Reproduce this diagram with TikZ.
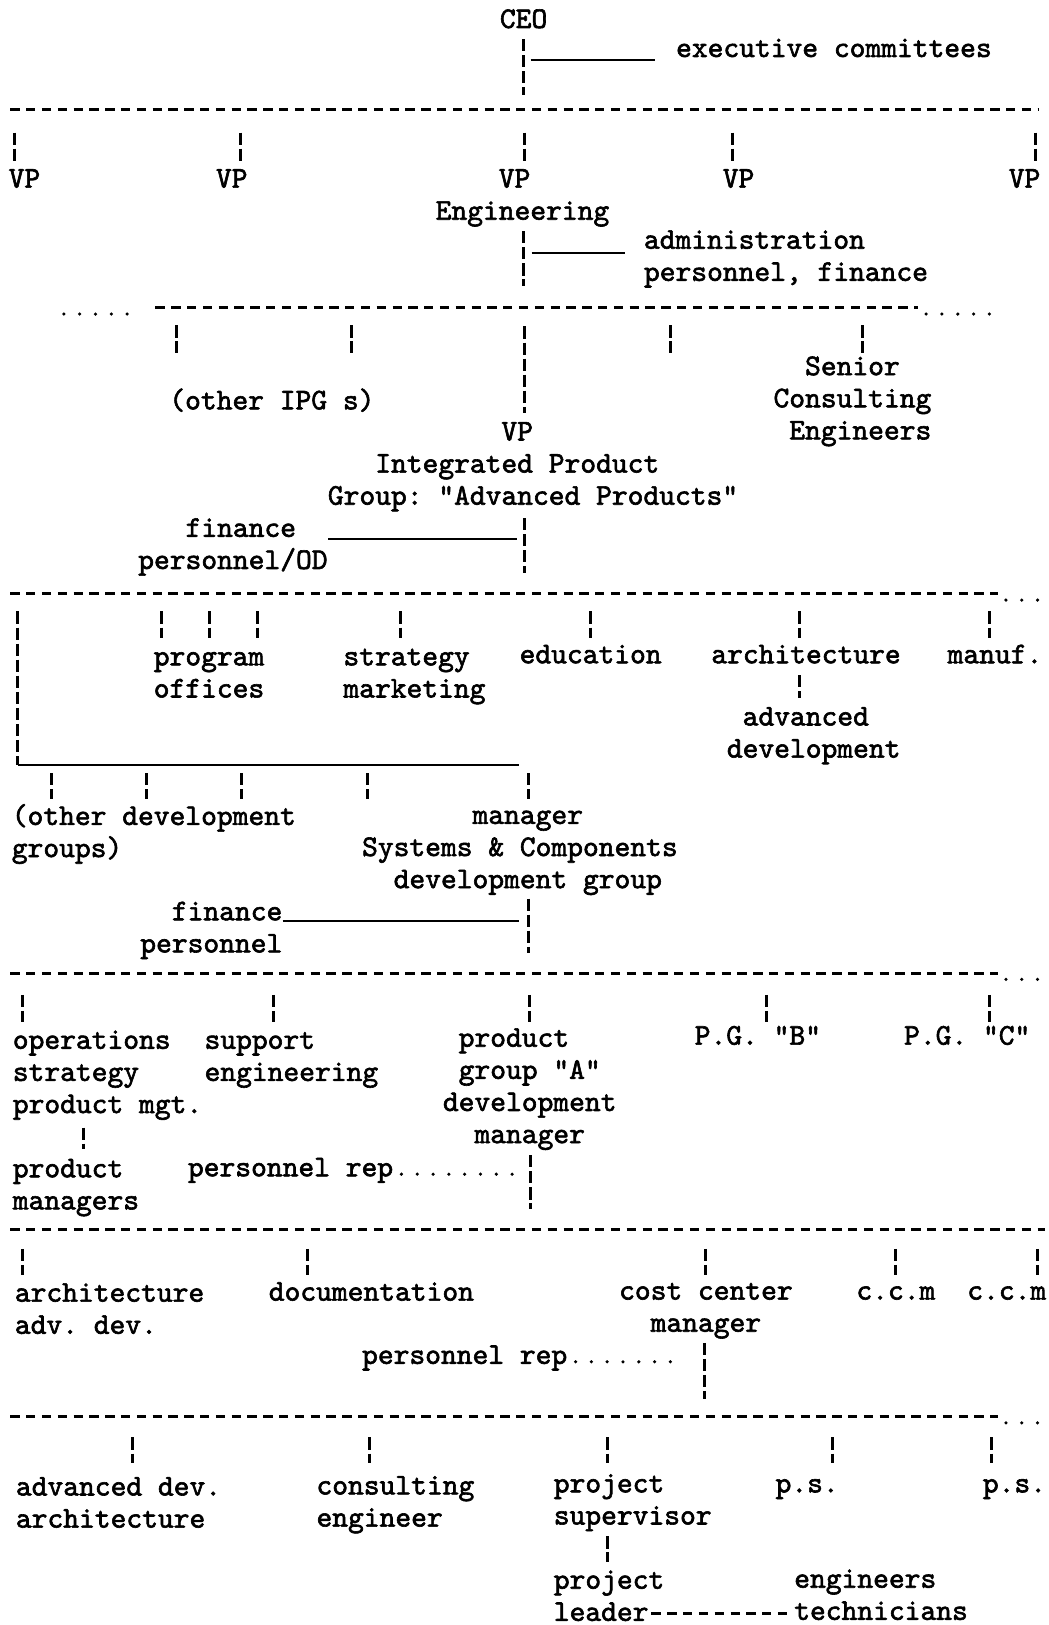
\documentclass[tikz,border=0pt]{standalone}
\usepackage{tikz}
\usepackage{fontspec}
\setmonofont{lmmono10-regular.otf}[FakeBold=2]
\newcommand{\tpad}[1]{\hspace*{#1\fontcharwd\font`x}}

\begin{document}
\begin{tikzpicture}[x=0.5pt, y=-0.5pt,
  lbl/.style={font=\ttfamily\fontsize{14.5}{15.5}\selectfont, inner sep=0pt, align=left, anchor=base west},
  hbus/.style={line width=1.5pt, dash pattern=on 4.5pt off 3.125pt},
  vline/.style={line width=1.45pt, dash pattern=on 5.9pt off 1.85pt},
  uline/.style={line width=1pt},
  dotrow/.style={line width=1.7pt, line cap=round, dash pattern=on 0pt off 7.625pt, dash phase=3.8pt}]
\useasboundingbox (0,0) rectangle (1012,1568);

\node [lbl] (ceo) at (482,27) {CEO};
\node [lbl] (exec) at (652,55) {executive committees};
\coordinate (ceo-j) at (505,58);
\coordinate (ceo-d) at (505,92);
\draw [vline, shorten <=5pt] (ceo.south -| ceo-d) -- (ceo-d);
\draw [uline, shorten <=3.5pt, shorten >=10pt] (ceo-j) -- (ceo-j -| exec.west);

\coordinate (b1w) at (10,106); \coordinate (b1e) at (1002,106);
\draw [hbus] (b1w) -- (b1e);
\foreach \n/\x in {1/14,2/232,3/506,4/707,5/999}
  {\coordinate (k1\n) at (\x,128); \draw [vline] (k1\n) -- ++(0,28);}

\node [lbl] (vp1) at (8,181) {VP};
\node [lbl] (vp2) at (208,181) {VP};
\node [lbl] (vpeng) at (420,212) {\tpad{4}VP\\Engineering};
\node [lbl] (vp4) at (697,181) {VP};
\node [lbl] (vp5) at (973,181) {VP};
\node [lbl] (admin) at (621,271) {administration\\personnel, finance};
\coordinate (eng-j) at (505,244);
\coordinate (eng-d) at (505,276);
\draw [vline, shorten <=2pt] (vpeng.south -| eng-d) -- (eng-d);
\draw [uline, shorten <=4pt, shorten >=9pt] (eng-j) -- (eng-j -| admin.west);

\coordinate (b2w) at (150,297); \coordinate (b2e) at (886,297);
\draw [hbus] (b2w) -- (b2e);
\coordinate (dl2) at (54,303); \coordinate (dl2e) at (130,303); \coordinate (dr2) at (960,303);
\draw [dotrow] (dl2) -- (dl2e);
\draw [dotrow] (b2e |- dr2) -- (dr2);
\foreach \n/\x in {1/170,2/339,4/647,5/832}
  {\coordinate (k2\n) at (\x,314); \draw [vline] (k2\n) -- ++(0,27);}
\coordinate (k23) at (506,315);

\node [lbl] (ipgs) at (163,395) {(other IPG s)};
\node [lbl] (sce) at (746,424) {\tpad{2}Senior\\Consulting\\\tpad{1}Engineers};
\node [lbl] (vpipg) at (316,487) {\tpad{11}VP\\\tpad{3}Integrated Product\\Group: "Advanced Products"};
\draw [vline, shorten >=4pt] (k23) -- (k23 |- vpipg.north);
\node [lbl] (finod) at (133,549) {\tpad{3}finance\\personnel/OD};
\coordinate (ipg-j) at (506,520);
\coordinate (ipg-d) at (506,553);
\draw [vline, shorten <=3pt] (vpipg.south -| ipg-d) -- (ipg-d);
\draw [uline, shorten >=3.5pt] (finod.east |- ipg-j) -- (ipg-j);

\coordinate (b3w) at (10,573); \coordinate (b3e) at (963,573); \coordinate (dr3) at (1008,579);
\draw [hbus] (b3w) -- (b3e);
\draw [dotrow] (b3e |- dr3) -- (dr3);
\foreach \n/\x in {1/156,2/202,3/248,4/386,5/570,6/771,7/955}
  {\coordinate (k3\n) at (\x,590); \draw [vline] (k3\n) -- ++(0,26);}
\coordinate (dg-t) at (17,590);
\coordinate (dg-c) at (17,738);
\coordinate (dg-e) at (501,738);
\draw [vline] (dg-t) -- (dg-c);
\draw [uline] (dg-c) -- (dg-e);

\node [lbl] (prog) at (148,673) {program\\offices};
\node [lbl] (strat) at (331,673) {strategy\\marketing};
\node [lbl] (edu) at (501,640) {education};
\node [lbl] (arch) at (686,640) {architecture};
\node [lbl] (manuf) at (914,640) {manuf.};
\node [lbl] (advdev) at (701,731) {\tpad{1}advanced\\development};
\draw [vline, shorten <=5.5pt, shorten >=4pt] (arch.south -| k36) -- (k36 |- advdev.north);

\foreach \n/\x in {1/50,2/141,3/233,4/355,5/510}
  {\coordinate (k4\n) at (\x,746); \draw [vline] (k4\n) -- ++(0,25);}
\node [lbl] (odg) at (11,827) {(other development\\groups)};
\node [lbl] (scdg) at (349,857) {\tpad{7}manager\\Systems \& Components\\\tpad{2}development group};
\node [lbl] (fin2) at (135,919) {\tpad{2}finance\\personnel};
\coordinate (scdg-j) at (510,889);
\coordinate (scdg-d) at (510,920);
\draw [vline, shorten <=1.5pt] (scdg.south -| scdg-d) -- (scdg-d);
\draw [uline, shorten >=4.5pt] (fin2.east |- scdg-j) -- (scdg-j);

\coordinate (b4w) at (10,939); \coordinate (b4e) at (963,939); \coordinate (dr4) at (1008,945);
\draw [hbus] (b4w) -- (b4e);
\draw [dotrow] (b4e |- dr4) -- (dr4);
\foreach \n/\x in {1/22,2/264,3/511,4/740,5/955}
  {\coordinate (k5\n) at (\x,960); \draw [vline] (k5\n) -- ++(0,26);}

\node [lbl] (ops) at (12,1074) {operations\\strategy\\product mgt.};
\node [lbl] (sup) at (197,1043) {support\\engineering};
\node [lbl] (pga) at (427,1103) {\tpad{1}product\\\tpad{1}group "A"\\development\\\tpad{2}manager};
\node [lbl] (pgb) at (670,1008) {P.G. "B"};
\node [lbl] (pgc) at (872,1008) {P.G. "C"};
\node [lbl] (pm) at (12,1167) {product\\managers};
\coordinate (pm-t) at (81,1109);
\draw [vline, shorten <=3.5pt] (ops.south -| pm-t) -- (pm-t);
\node [lbl] (prep1) at (181,1135) {personnel rep};
\coordinate (pga-j) at (512,1133);
\coordinate (pga-d) at (512,1167);
\draw [vline, shorten <=2.3pt] (pga.south -| pga-d) -- (pga-d);
\draw [dotrow, shorten >=5pt] (prep1.base east |- pga-j) -- (pga-j);

\coordinate (b5w) at (10,1186); \coordinate (b5e) at (1008,1186);
\draw [hbus] (b5w) -- (b5e);
\foreach \n/\x in {1/22,2/297,3/681,4/864,5/1001}
  {\coordinate (k6\n) at (\x,1205); \draw [vline] (k6\n) -- ++(0,25);}

\node [lbl] (arch2) at (14,1287) {architecture\\adv. dev.};
\node [lbl] (doc) at (259,1255) {documentation};
\node [lbl] (ccm) at (597,1285) {cost center\\\tpad{2}manager};
\node [lbl] (ccm2) at (826,1254) {c.c.m};
\node [lbl] (ccm3) at (933,1254) {c.c.m};
\node [lbl] (prep2) at (349,1316) {personnel rep};
\coordinate (ccm-j) at (680,1314);
\coordinate (ccm-d) at (680,1350);
\draw [vline, shorten <=1.8pt] (ccm.south -| ccm-d) -- (ccm-d);
\draw [dotrow, shorten >=14pt] (prep2.base east |- ccm-j) -- (ccm-j);

\coordinate (b6w) at (10,1367); \coordinate (b6e) at (963,1367); \coordinate (dr6) at (1008,1373);
\draw [hbus] (b6w) -- (b6e);
\draw [dotrow] (b6e |- dr6) -- (dr6);
\foreach \n/\x in {1/128,2/357,3/586,4/803,5/957}
  {\coordinate (k7\n) at (\x,1387); \draw [vline] (k7\n) -- ++(0,25);}

\node [lbl] (adv2) at (15,1474) {advanced dev.\\architecture};
\node [lbl] (cons) at (305,1473) {consulting\\engineer};
\node [lbl] (ps) at (534,1471) {project\\supervisor};
\node [lbl] (ps2) at (748,1440) {p.s.};
\node [lbl] (ps3) at (948,1440) {p.s.};
\node [lbl] (pl) at (534,1564) {project\\leader};
\node [lbl] (et) at (766,1563) {engineers\\technicians};
\draw [vline, shorten <=2.3pt, shorten >=4pt] (ps.south -| k73) -- (k73 |- pl.north);
\coordinate (pl-e) at (625.5,1557);
\draw [hbus, dash phase=6.06pt, shorten >=0.5pt] (pl-e) -- (et.west |- pl-e);
\end{tikzpicture}
\end{document}
